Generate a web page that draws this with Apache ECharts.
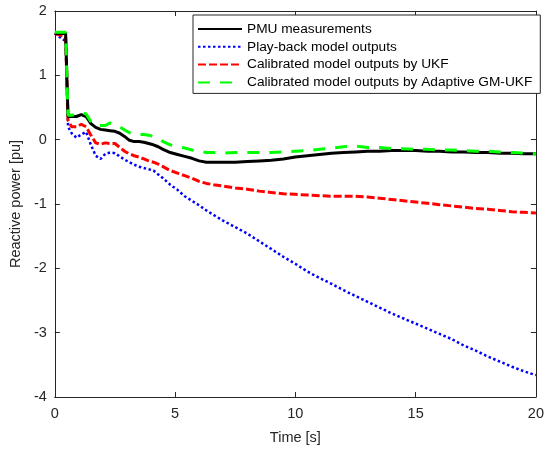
<!DOCTYPE html>
<html>
<head>
<meta charset="utf-8">
<script src="https://cdn.jsdelivr.net/npm/echarts@6/dist/echarts.min.js"></script>
<style>html,body{margin:0;padding:0;background:#fff}#c{width:547px;height:450px}</style>
</head>
<body>
<div id="c"></div>
<script>
var time = [0, 0.45, 0.5, 0.55, 0.7, 0.9, 1.1, 1.3, 1.5, 1.7, 1.9, 2.1, 2.3, 2.5, 2.7, 2.9, 3.1, 3.3, 3.5, 3.7, 3.9, 4.1, 4.3, 4.5, 4.8, 5.1, 5.4, 5.7, 6.0, 6.3, 6.6, 7, 7.5, 8, 8.5, 9, 9.5, 10, 10.5, 11, 11.5, 12, 12.5, 13, 13.5, 14, 14.5, 15, 15.5, 16, 16.5, 17, 17.5, 18, 18.5, 19, 19.5, 20];
var pmu = [1.65, 1.65, 1.65, 0.36, 0.36, 0.36, 0.39, 0.36, 0.25, 0.19, 0.16, 0.15, 0.14, 0.13, 0.1, 0.05, -0.01, -0.03, -0.03, -0.04, -0.06, -0.08, -0.11, -0.15, -0.2, -0.23, -0.26, -0.29, -0.33, -0.35, -0.35, -0.35, -0.35, -0.34, -0.33, -0.32, -0.3, -0.27, -0.25, -0.23, -0.21, -0.2, -0.19, -0.18, -0.18, -0.17, -0.17, -0.17, -0.18, -0.18, -0.19, -0.19, -0.2, -0.2, -0.21, -0.21, -0.22, -0.22];
var playback = [1.65, 1.53, 1.5, 0.2, 0.1, 0.03, 0.08, 0.12, -0.08, -0.25, -0.3, -0.22, -0.2, -0.21, -0.26, -0.31, -0.35, -0.39, -0.42, -0.44, -0.46, -0.48, -0.54, -0.6, -0.7, -0.78, -0.88, -0.95, -1.02, -1.1, -1.17, -1.26, -1.36, -1.46, -1.58, -1.7, -1.82, -1.93, -2.05, -2.15, -2.24, -2.34, -2.43, -2.52, -2.61, -2.7, -2.78, -2.86, -2.94, -3.02, -3.1, -3.2, -3.28, -3.37, -3.45, -3.53, -3.6, -3.66];
var ukf = [1.65, 1.6, 1.6, 0.3, 0.2, 0.2, 0.24, 0.2, 0.07, -0.05, -0.07, -0.05, -0.06, -0.06, -0.12, -0.18, -0.22, -0.25, -0.27, -0.3, -0.33, -0.35, -0.38, -0.42, -0.48, -0.52, -0.56, -0.6, -0.65, -0.68, -0.7, -0.72, -0.75, -0.77, -0.8, -0.82, -0.84, -0.85, -0.86, -0.87, -0.88, -0.88, -0.88, -0.89, -0.91, -0.93, -0.95, -0.97, -0.99, -1.01, -1.03, -1.05, -1.07, -1.08, -1.1, -1.12, -1.13, -1.14];
var gmukf = [1.67, 1.67, 1.67, 0.38, 0.38, 0.39, 0.42, 0.4, 0.28, 0.22, 0.22, 0.22, 0.26, 0.24, 0.2, 0.15, 0.11, 0.08, 0.08, 0.08, 0.07, 0.05, 0.02, -0.03, -0.08, -0.11, -0.13, -0.16, -0.18, -0.2, -0.2, -0.21, -0.2, -0.2, -0.2, -0.2, -0.19, -0.18, -0.17, -0.15, -0.13, -0.11, -0.1, -0.12, -0.12, -0.14, -0.14, -0.15, -0.15, -0.16, -0.16, -0.17, -0.18, -0.18, -0.19, -0.2, -0.21, -0.22];
var seriesNames = ['PMU measurements', 'Play-back model outputs', 'Calibrated model outputs by UKF', 'Calibrated model outputs by Adaptive GM-UKF'];
var xTicks = [0, 5, 10, 15, 20];
var yTicks = [-4, -3, -2, -1, 0, 1, 2];

function pairs(v) { return time.map(function (t, i) { return [t, v[i]]; }); }

var axisCol = '#262626';
var font = 'Liberation Sans, Arial, sans-serif';
var chart = echarts.init(document.getElementById('c'));
var gridPos = { left: 48, right: 7, top: 11, bottom: 52 };
function xAx(pos, show) {
  return { type: 'value', position: pos, min: xTicks[0], max: xTicks[xTicks.length - 1], interval: 5,
    name: show ? 'Time [s]' : '', nameLocation: 'middle', nameGap: 33,
    nameTextStyle: { fontFamily: font, fontSize: 14.5, color: axisCol },
    axisLine: { show: true, onZero: false, lineStyle: { color: axisCol, width: 1 } },
    axisTick: { show: true, inside: true, length: 5, lineStyle: { color: axisCol } },
    axisLabel: { show: show, fontFamily: font, fontSize: 14.5, color: axisCol, margin: 9 },
    splitLine: { show: false } };
}
function yAx(pos, show) {
  return { type: 'value', position: pos, min: yTicks[0], max: yTicks[yTicks.length - 1], interval: 1,
    name: show ? 'Reactive power [pu]' : '', nameLocation: 'middle', nameGap: 26,
    nameTextStyle: { fontFamily: font, fontSize: 14.5, color: axisCol },
    axisLine: { show: true, onZero: false, lineStyle: { color: axisCol, width: 1 } },
    axisTick: { show: true, inside: true, length: 5, lineStyle: { color: axisCol } },
    axisLabel: { show: show, fontFamily: font, fontSize: 14.5, color: axisCol, margin: 8 },
    splitLine: { show: false } };
}
chart.setOption({
  animation: false,
  grid: gridPos,
  xAxis: [xAx('bottom', true), xAx('top', false)],
  yAxis: [yAx('left', true), yAx('right', false)],
  legend: {
    orient: 'vertical', left: 193, top: 15, width: 340,
    backgroundColor: '#fff', borderColor: axisCol, borderWidth: 1,
    padding: [7, 8, 4, 4], itemGap: 3.8, itemWidth: 44, itemHeight: 14.5,
    itemStyle: { opacity: 0 },
    textStyle: { fontFamily: font, fontSize: 13.7, color: '#000', padding: [0, 0, 0, 0] },
    data: seriesNames
  },
  series: [
    { name: seriesNames[0], type: 'line', data: pairs(pmu), showSymbol: false, symbol: 'none', z: 3,
      lineStyle: { color: '#000', width: 3, type: 'solid' }, itemStyle: { color: '#000' } },
    { name: seriesNames[1], type: 'line', data: pairs(playback), showSymbol: false, symbol: 'none', z: 2,
      lineStyle: { color: '#0000ff', width: 2.5, type: [2.5, 2.5] }, itemStyle: { color: '#0000ff' } },
    { name: seriesNames[2], type: 'line', data: pairs(ukf), showSymbol: false, symbol: 'none', z: 2,
      lineStyle: { color: '#ff0000', width: 3, type: [8, 3] }, itemStyle: { color: '#ff0000' } },
    { name: seriesNames[3], type: 'line', data: pairs(gmukf), showSymbol: false, symbol: 'none', z: 4,
      lineStyle: { color: '#00ff00', width: 3, type: [12, 10] }, itemStyle: { color: '#00ff00' } }
  ]
});
</script>
</body>
</html>
